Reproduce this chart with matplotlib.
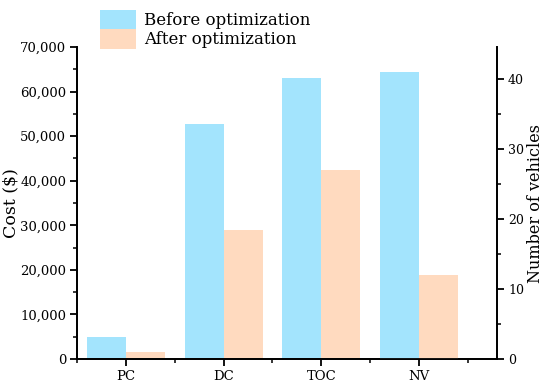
import numpy as np
import matplotlib
matplotlib.use("Agg")
import matplotlib.pyplot as plt
from matplotlib.patches import Patch
from matplotlib.ticker import MultipleLocator, FuncFormatter

plt.rcParams['font.family'] = ['DejaVu Serif', 'DejaVu Sans']

# data
cost_cats = ['PC', 'DC', 'TOC']
cost_before = [5000, 52700, 63000]
cost_after = [1600, 28900, 42500]
nv_before = [41]
nv_after = [12]
all_cats = ['PC', 'DC', 'TOC', 'NV']

c_before = '#A3E4FD'
c_after = '#FFDABF'
w = 0.4

fig = plt.figure(figsize=(5.5, 3.91), dpi=100)
ax = fig.add_axes([0.1405, 0.0818, 0.7631, 0.798])
ax2 = ax.twinx()

x = np.arange(len(cost_cats))
ax.bar(x - w/2, cost_before, w, color=c_before, linewidth=0)
ax.bar(x + w/2, cost_after, w, color=c_after, linewidth=0)
xn = np.array([3])
ax2.bar(xn - w/2, nv_before, w, color=c_before, linewidth=0)
ax2.bar(xn + w/2, nv_after, w, color=c_after, linewidth=0)

ax.set_xlim(-0.5, 3.8)
ax.set_ylim(0, 70000)
ax2.set_ylim(0, 44.6)

ax.set_xticks(np.arange(len(all_cats)))
ax.set_xticklabels(all_cats)
ax.xaxis.set_minor_locator(MultipleLocator(1, offset=0.5))
ax.yaxis.set_major_locator(MultipleLocator(10000))
ax.yaxis.set_minor_locator(MultipleLocator(5000))
ax.yaxis.set_major_formatter(FuncFormatter(lambda v, p: f'{int(v):,}'))
ax2.yaxis.set_major_locator(MultipleLocator(10))
ax2.yaxis.set_minor_locator(MultipleLocator(5))

for a in (ax, ax2):
    a.spines['top'].set_visible(False)
    for s in a.spines.values():
        s.set_linewidth(1.3)
    a.tick_params(which='major', length=5, width=1.3, labelsize=9.5, direction='out', pad=3)
    a.tick_params(which='minor', length=3, width=1.1, direction='out')
ax2.tick_params(axis='y', labelsize=9)

ax.set_ylabel('Cost ($)', fontsize=12.5)
ax.yaxis.set_label_coords(-0.139, 0.5)
ax2.set_ylabel('Number of vehicles', fontsize=11.5)
ax2.yaxis.set_label_coords(1.071, 0.5)

handles = [Patch(facecolor=c_before, linewidth=0, label='Before optimization'),
           Patch(facecolor=c_after, linewidth=0, label='After optimization')]
fig.legend(handles=handles, loc='upper left', bbox_to_anchor=(100/550, 1 - 10/391),
           frameon=False, fontsize=12, handlelength=2.16, handleheight=1.4,
           labelspacing=0.0, handletextpad=0.48, borderpad=0, borderaxespad=0)

fig.savefig('out.png', dpi=100)
